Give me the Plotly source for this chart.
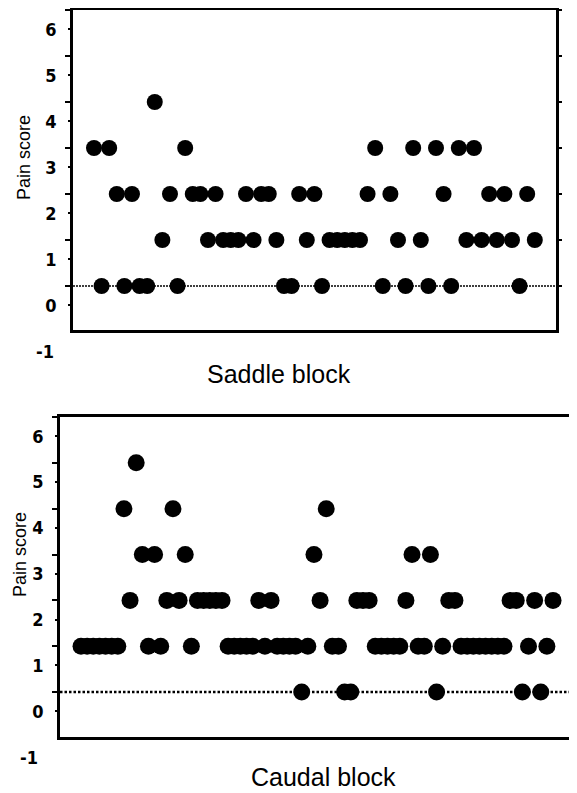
import plotly.graph_objects as go

# ---- data ----
saddle_scores = [3, 0, 3, 2, 0, 2, 0, 0, 4, 1,
                 2, 0, 3, 2, 2, 1, 2, 1, 1, 1,
                 2, 1, 2, 2, 1, 0, 0, 2, 1, 2,
                 0, 1, 1, 1, 1, 1, 2, 3, 0, 2,
                 1, 0, 3, 1, 0, 3, 2, 0, 3, 1,
                 3, 1, 2, 1, 2, 1, 0, 2, 1]
caudal_scores = [1, 1, 1, 1, 1, 1, 1,
                 4, 2, 5, 3, 1, 3, 1, 2, 4, 2, 3, 1,
                 2, 2, 2, 2, 2,
                 1, 1, 1, 1, 1,
                 2, 1, 2, 1, 1, 1, 1, 0, 1,
                 3, 2, 4, 1, 1, 0, 0, 2, 2, 2,
                 1, 1, 1, 1, 1,
                 2, 3, 1, 1, 3, 0, 1, 2, 2,
                 1, 1, 1, 1, 1, 1, 1, 1,
                 2, 2, 0, 1, 2, 0, 1, 2]
saddle_patients = list(range(1, len(saddle_scores) + 1))
caudal_patients = list(range(1, len(caudal_scores) + 1))
tick_labels = ["0", "1", "2", "3", "4", "5", "6"]
tick_levels = [0, 1, 2, 3, 4, 5, 6]
extra_label = "-1"
extra_level = -1
panel_titles = ["Saddle block", "Caudal block"]
y_title = "Pain score"
reference_level = 0

# page has an 8px body margin: size the figure to fit inside the window
PAD = 8
W, H = 577 - PAD, 793 - PAD
def px(x):
    return (x - PAD) / W
def py(y):
    return 1 - (y - PAD) / H

label_offset = 0.42
tick_font = dict(family="DejaVu Sans Condensed, Liberation Sans Narrow, sans-serif",
                 size=18, color="black", weight="bold")

top_rng = [-0.957, 6.0]
bot_rng = [-0.98, 6.0]

fig = go.Figure()
fig.add_trace(go.Scatter(x=saddle_patients, y=saddle_scores, mode="markers",
                         marker=dict(color="black", size=16, line=dict(width=0)),
                         xaxis="x", yaxis="y", showlegend=False, cliponaxis=False))
fig.add_trace(go.Scatter(x=caudal_patients, y=caudal_scores, mode="markers",
                         marker=dict(color="black", size=17, line=dict(width=0)),
                         xaxis="x2", yaxis="y2", showlegend=False, cliponaxis=False))
# empty traces so the right-hand tick axes are drawn
fig.add_trace(go.Scatter(x=[None], y=[None], xaxis="x", yaxis="y3", showlegend=False))
fig.add_trace(go.Scatter(x=[None], y=[None], xaxis="x2", yaxis="y4", showlegend=False))

def yaxis_cfg(domain, rng, anchor):
    return dict(domain=domain, range=rng, anchor=anchor, showgrid=False, zeroline=False,
                showline=True, linecolor="black", linewidth=2.5, mirror=True,
                tickmode="array", tickvals=[v - label_offset for v in tick_levels],
                ticktext=tick_labels, ticks="outside", ticklen=2, tickwidth=2,
                tickcolor="black", tickfont=tick_font, ticklabelstandoff=8,
                minor=dict(tick0=0, dtick=1, ticks="outside", ticklen=5,
                           tickwidth=2, tickcolor="black", showgrid=False))

def yaxis_right(rng, anchor, over):
    return dict(range=rng, anchor=anchor, overlaying=over, side="right",
                showgrid=False, zeroline=False, showline=False,
                tickmode="array", tickvals=[v - label_offset for v in tick_levels],
                showticklabels=False, ticks="outside", ticklen=2, tickwidth=2,
                tickcolor="black",
                minor=dict(tick0=0, dtick=1, ticks="outside", ticklen=5,
                           tickwidth=2, tickcolor="black", showgrid=False))

def xaxis_cfg(domain, rng, anchor):
    return dict(domain=domain, range=rng, anchor=anchor, showgrid=False, zeroline=False,
                showline=True, linecolor="black", linewidth=2.5, mirror=True,
                ticks="", showticklabels=False)

fig.update_layout(
    width=W, height=H, margin=dict(l=0, r=0, t=0, b=0),
    paper_bgcolor="white", plot_bgcolor="white",
    xaxis=xaxis_cfg([px(73), px(556)], [-1.76, 61.79], "y"),
    yaxis=yaxis_cfg([py(330), py(10)], top_rng, "x"),
    xaxis2=xaxis_cfg([px(60), px(570)], [-2.43, 80.77], "y2"),
    yaxis2=yaxis_cfg([py(737), py(417)], bot_rng, "x2"),
    yaxis3=yaxis_right(top_rng, "x", "y"),
    yaxis4=yaxis_right(bot_rng, "x2", "y2"),
)

# reference (dotted) lines
fig.add_shape(type="line", xref="x domain", yref="y", x0=0, x1=1,
              y0=reference_level, y1=reference_level,
              line=dict(color="black", width=1.3, dash="2px,1px"), layer="below")
fig.add_shape(type="line", xref="x2 domain", yref="y2", x0=0, x1=1,
              y0=reference_level, y1=reference_level,
              line=dict(color="black", width=2.5, dash="2.5px,2px"), layer="below")

title_font = dict(family="Liberation Sans, Arial, sans-serif", size=25, color="black")
lab_font = dict(family="Liberation Sans, Arial, sans-serif", size=18, color="black")
fig.add_annotation(text=panel_titles[0], xref="paper", yref="paper",
                   x=px(279), y=py(374), showarrow=False, font=title_font,
                   xanchor="center", yanchor="middle")
fig.add_annotation(text=panel_titles[1], xref="paper", yref="paper",
                   x=px(323), y=0, showarrow=False, font=title_font,
                   xanchor="center", yanchor="bottom")
fig.add_annotation(text=y_title, xref="paper", yref="paper", textangle=-90,
                   x=px(12), y=py(158), showarrow=False, font=lab_font,
                   xanchor="left", yanchor="middle")
fig.add_annotation(text=y_title, xref="paper", yref="paper", textangle=-90,
                   x=0, y=py(555), showarrow=False, font=lab_font,
                   xanchor="left", yanchor="middle")

# "-1" labels sit below the frames, in y-domain units
def dom(v, rng):
    return (v - rng[0]) / (rng[1] - rng[0])
fig.add_annotation(text=extra_label, xref="paper", yref="y domain",
                   x=px(56), y=dom(extra_level - label_offset, top_rng),
                   showarrow=False, font=tick_font, xanchor="right", yanchor="middle")
fig.add_annotation(text=extra_label, xref="paper", yref="y2 domain",
                   x=px(40), y=dom(extra_level - label_offset, bot_rng),
                   showarrow=False, font=tick_font, xanchor="right", yanchor="middle")

fig.write_html("out.html")
